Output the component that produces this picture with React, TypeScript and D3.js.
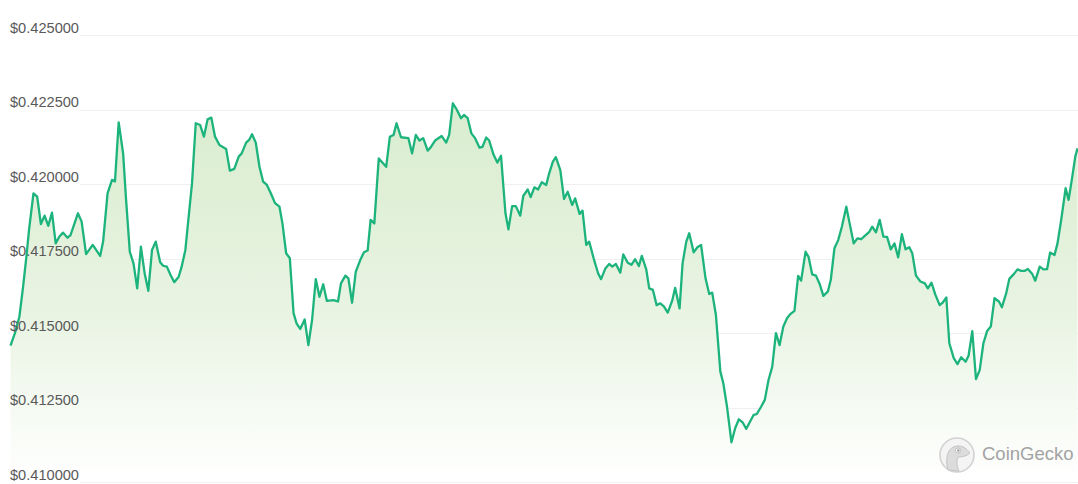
import React, { useEffect, useRef } from "react";
import * as d3 from "d3";

// minutes since the start of the 24h window
const minutes = [
  0, 6, 12, 17, 22, 25, 31, 36, 41, 46, 51, 56, 61, 66, 71, 77, 81, 91, 96, 102,
  111, 121, 125, 131, 137, 141, 146, 152, 156, 161, 166, 171, 176, 181, 186, 191, 196, 202, 206, 211,
  216, 221, 227, 231, 236, 240, 245, 250, 256, 261, 266, 271, 276, 282, 291, 296, 302, 308, 312, 318,
  322, 326, 331, 336, 341, 346, 351, 357, 363, 367, 372, 377, 382, 386, 391, 397, 402, 407, 412, 417,
  422, 427, 436, 442, 446, 452, 456, 461, 466, 472, 477, 482, 486, 491, 497, 507, 512, 517, 521, 527,
  537, 542, 547, 552, 557, 563, 567, 573, 582, 588, 592, 597, 602, 608, 612, 617, 622, 627, 633, 637,
  642, 646, 652, 657, 662, 668, 672, 677, 682, 688, 692, 698, 702, 707, 712, 717, 723, 727, 732, 736,
  742, 747, 752, 758, 762, 768, 772, 777, 781, 787, 793, 797, 803, 808, 812, 817, 823, 827, 833, 838,
  843, 848, 852, 858, 862, 867, 872, 877, 882, 887, 893, 897, 903, 907, 912, 916, 922, 927, 932, 938,
  943, 947, 952, 958, 962, 967, 973, 978, 983, 988, 993, 998, 1003, 1007, 1013, 1018, 1023, 1028, 1033, 1038,
  1043, 1048, 1052, 1058, 1063, 1067, 1073, 1077, 1082, 1087, 1092, 1097, 1103, 1107, 1112, 1117, 1122, 1128, 1132, 1138,
  1143, 1148, 1154, 1159, 1163, 1168, 1173, 1178, 1183, 1188, 1193, 1198, 1203, 1208, 1213, 1217, 1222, 1228, 1234, 1238,
  1243, 1248, 1254, 1258, 1263, 1267, 1273, 1278, 1283, 1289, 1293, 1298, 1303, 1308, 1313, 1318, 1323, 1328, 1334, 1338,
  1344, 1348, 1354, 1359, 1364, 1369, 1373, 1379, 1383, 1389, 1394, 1399, 1403, 1409, 1413, 1418, 1424, 1428, 1433, 1437,
  1440,
];

// price in USD
const prices = [
  0.41458, 0.415, 0.41555, 0.41656, 0.41769, 0.41846, 0.41969, 0.41958, 0.41866, 0.41894,
  0.4186, 0.41904, 0.41801, 0.41824, 0.41837, 0.4182, 0.41829, 0.41902, 0.41874, 0.41765,
  0.41796, 0.41759, 0.41807, 0.41969, 0.42014, 0.42009, 0.42207, 0.42103, 0.41947, 0.41773,
  0.41734, 0.4165, 0.4179, 0.41701, 0.41642, 0.41779, 0.41807, 0.41738, 0.41726, 0.41723,
  0.41695, 0.41671, 0.41689, 0.41723, 0.41779, 0.4188, 0.42003, 0.42204, 0.42198, 0.42159,
  0.42217, 0.42223, 0.42159, 0.42131, 0.42118, 0.42045, 0.42051, 0.42092, 0.42103, 0.42139,
  0.42148, 0.42167, 0.42139, 0.42058, 0.42008, 0.41997, 0.41971, 0.41936, 0.41924, 0.41868,
  0.41768, 0.41751, 0.41567, 0.41533, 0.41514, 0.41546, 0.4146, 0.41544, 0.41681, 0.41622,
  0.41664, 0.41608, 0.41611, 0.41606, 0.41667, 0.41693, 0.41684, 0.41602, 0.41706, 0.41745,
  0.41771, 0.41777, 0.4188, 0.41868, 0.42086, 0.42058, 0.42159, 0.42165, 0.42204, 0.42157,
  0.42154, 0.42103, 0.42165, 0.42146, 0.42154, 0.42112, 0.42123, 0.42146, 0.42161, 0.42139,
  0.42165, 0.42271, 0.42251, 0.42221, 0.42232, 0.42221, 0.4217, 0.42154, 0.42122, 0.42125,
  0.42156, 0.42146, 0.42098, 0.42072, 0.42095, 0.41902, 0.41848, 0.41926, 0.41926, 0.41894,
  0.4196, 0.41982, 0.41956, 0.41989, 0.41982, 0.42006, 0.41997, 0.42036, 0.42075, 0.4209,
  0.42047, 0.4195, 0.41974, 0.4193, 0.41952, 0.419, 0.41911, 0.41796, 0.41807, 0.41751,
  0.41701, 0.41681, 0.41718, 0.41732, 0.41723, 0.41732, 0.41703, 0.41764, 0.41736, 0.41729,
  0.41748, 0.41725, 0.41759, 0.41714, 0.4165, 0.41645, 0.41594, 0.416, 0.41589, 0.41569,
  0.41609, 0.41652, 0.41583, 0.41734, 0.41807, 0.41835, 0.41771, 0.41788, 0.41796, 0.41684,
  0.41631, 0.41636, 0.41561, 0.41371, 0.41332, 0.41253, 0.41134, 0.41181, 0.41211, 0.41201,
  0.41179, 0.41203, 0.41226, 0.41228, 0.41253, 0.41276, 0.41343, 0.41387, 0.415, 0.4146,
  0.41522, 0.4155, 0.41563, 0.41575, 0.41692, 0.41676, 0.41773, 0.41756, 0.41697, 0.41693,
  0.41665, 0.41625, 0.41639, 0.41678, 0.41785, 0.41812, 0.41857, 0.41924, 0.41874, 0.41801,
  0.41818, 0.41815, 0.41829, 0.4184, 0.41857, 0.41838, 0.4188, 0.41824, 0.41823, 0.41781,
  0.41801, 0.41754, 0.41832, 0.41781, 0.41788, 0.41768, 0.41693, 0.41673, 0.41667, 0.4165,
  0.41669, 0.4163, 0.41594, 0.41602, 0.4162, 0.41466, 0.41416, 0.41396, 0.41419, 0.41404,
  0.41424, 0.41507, 0.41346, 0.41376, 0.41466, 0.41507, 0.41522, 0.41617, 0.41606, 0.41587,
  0.41636, 0.41682, 0.41698, 0.41714, 0.41709, 0.41709, 0.41715, 0.41698, 0.41676, 0.41723,
  0.41714, 0.41715, 0.4177, 0.41762, 0.41801, 0.4188, 0.41986, 0.41947, 0.42025, 0.42092,
  0.4212,
];

const priceTicks = [0.41, 0.4125, 0.415, 0.4175, 0.42, 0.4225, 0.425];

const width = 1078;
const height = 484;

export default function App() {
  const ref = useRef<SVGSVGElement>(null);

  useEffect(() => {
    const svg = d3.select(ref.current);
    svg.selectAll("*").remove();

    const x = d3.scaleLinear().domain([0, 1440]).range([10.5, 1077.5]);
    const y = d3.scaleLinear().domain([0.41, 0.425]).range([482.2, 35]);

    const data = minutes.map((m, i) => ({ m, p: prices[i] }));

    // fill gradient
    const grad = svg
      .append("defs")
      .append("linearGradient")
      .attr("id", "area-fade")
      .attr("gradientUnits", "userSpaceOnUse")
      .attr("x1", 0)
      .attr("x2", 0)
      .attr("y1", y(0.4225))
      .attr("y2", y(0.41));
    grad.append("stop").attr("offset", "0%").attr("stop-color", "#d9edcf");
    grad.append("stop").attr("offset", "55%").attr("stop-color", "#e9f4e3");
    grad.append("stop").attr("offset", "100%").attr("stop-color", "#ffffff");

    // grid lines
    svg
      .append("g")
      .selectAll("line")
      .data(priceTicks)
      .enter()
      .append("line")
      .attr("x1", 80)
      .attr("x2", width)
      .attr("y1", (d) => Math.round(y(d)) + 0.5)
      .attr("y2", (d) => Math.round(y(d)) + 0.5)
      .attr("stroke", "#efefef")
      .attr("stroke-width", 1);

    // area
    svg
      .append("path")
      .datum(data)
      .attr("fill", "url(#area-fade)")
      .attr(
        "d",
        d3
          .area<{ m: number; p: number }>()
          .x((d) => x(d.m))
          .y0(y(0.41))
          .y1((d) => y(d.p))
      );

    // line
    svg
      .append("path")
      .datum(data)
      .attr("fill", "none")
      .attr("stroke", "#1cb37c")
      .attr("stroke-width", 2.3)
      .attr("stroke-linejoin", "round")
      .attr(
        "d",
        d3
          .line<{ m: number; p: number }>()
          .x((d) => x(d.m))
          .y((d) => y(d.p))
      );

    // y labels
    svg
      .append("g")
      .selectAll("text")
      .data(priceTicks)
      .enter()
      .append("text")
      .attr("x", 10)
      .attr("y", (d) => y(d) - 2.5)
      .style("font-family", "'Liberation Sans', Arial, sans-serif")
      .style("font-size", "14.6px")
      .attr("fill", "#595959")
      .text((d) => "$" + d.toFixed(6));

    // watermark
    const mark = svg.append("g").attr("transform", "translate(957,455)");
    mark.append("circle").attr("r", 17).attr("fill", "#f4f4f4").attr("stroke", "#d2d2d2").attr("stroke-width", 1.6);
    mark
      .append("path")
      .attr("d", "M-9,15 C-12,4 -10,-8 0,-9 C6,-9.5 10,-6 13,-2 C10,1 5,2 1,2 C-1,7 0,12 2,16 Z")
      .attr("fill", "#dcdcdc")
      .attr("stroke", "#c4c4c4")
      .attr("stroke-width", 1);
    mark.append("circle").attr("cx", 1).attr("cy", -4.5).attr("r", 2.6).attr("fill", "#ffffff").attr("stroke", "#bdbdbd");
    mark.append("circle").attr("cx", 1.3).attr("cy", -4.5).attr("r", 1.2).attr("fill", "#9a9a9a");
    svg
      .append("text")
      .attr("x", 982)
      .attr("y", 460)
      .style("font-family", "'Liberation Sans', Arial, sans-serif")
      .style("font-size", "18.5px")
      .attr("fill", "#a3a3a3")
      .text("CoinGecko");
  }, []);

  return (
    <div style={{ position: "absolute", left: 0, top: 0 }}>
      <svg ref={ref} width={width} height={height} />
    </div>
  );
}
